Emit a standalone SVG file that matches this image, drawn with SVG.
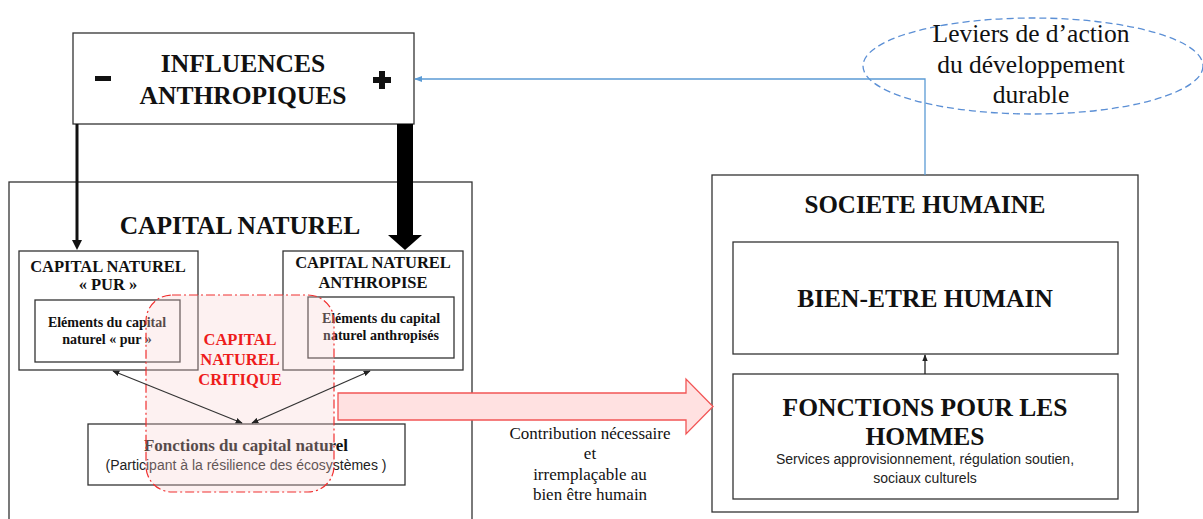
<svg xmlns="http://www.w3.org/2000/svg" width="1203" height="519" viewBox="0 0 1203 519">
<style>
.box{fill:#fff;stroke:#333;stroke-width:1.3}
.ser{font-family:"Liberation Serif",serif;fill:#111;text-anchor:middle}
.b{font-weight:bold}
.sans{font-family:"Liberation Sans",Arial,sans-serif;fill:#222;text-anchor:middle}
.red{fill:#ee1c1c}
</style>
<defs>
<marker id="ah" viewBox="0 0 10 10" refX="9" refY="5" markerWidth="7" markerHeight="7" orient="auto-start-reverse" markerUnits="userSpaceOnUse"><path d="M0,1 L10,5 L0,9 z" fill="#222"/></marker>
<marker id="ahb" viewBox="0 0 10 10" refX="9" refY="5" markerWidth="8" markerHeight="8" orient="auto" markerUnits="userSpaceOnUse"><path d="M0,1 L10,5 L0,9 z" fill="#5b9bd5"/></marker>
</defs>

<g id="capital-naturel">
<rect class="box" x="9" y="182" width="463" height="345"/>
<text class="ser b" x="240" y="234" font-size="25.5">CAPITAL NATUREL</text>
</g>

<g id="societe-humaine">
<rect class="box" x="712" y="175" width="426" height="337"/>
<text class="ser b" x="925" y="213" font-size="25">SOCIETE HUMAINE</text>
</g>

<g id="influences">
<rect class="box" x="73" y="33" width="341" height="91"/>
<text class="ser b" x="243" y="72" font-size="25.5">INFLUENCES</text>
<text class="ser b" x="243" y="104" font-size="25.5">ANTHROPIQUES</text>
<rect x="95" y="76" width="16" height="5" fill="#111"/>
<path d="M379,71 h6 v6 h6 v6 h-6 v6 h-6 v-6 h-6 v-6 h6 z" fill="#111"/>
</g>

<g id="leviers">
<ellipse cx="1033" cy="66" rx="170" ry="48" fill="none" stroke="#5b8fd5" stroke-width="1.3" stroke-dasharray="7,4"/>
<text class="ser" x="1031" y="42" font-size="25.5">Leviers de d’action</text>
<text class="ser" x="1031" y="73" font-size="25.5">du développement</text>
<text class="ser" x="1031" y="103" font-size="25.5">durable</text>
</g>

<g id="cn-pur">
<rect class="box" x="19" y="251" width="179" height="119"/>
<text class="ser b" x="108" y="272" font-size="16.5">CAPITAL NATUREL</text>
<text class="ser b" x="108" y="290" font-size="16.5">« PUR »</text>
<rect class="box" x="35" y="300" width="145" height="62"/>
<text class="ser b" x="107" y="327" font-size="14">Eléments du capital</text>
<text class="ser b" x="107" y="344" font-size="14">naturel « pur »</text>
</g>

<g id="cn-anthropise">
<rect class="box" x="283" y="251" width="180" height="119"/>
<text class="ser b" x="373" y="268" font-size="16.5">CAPITAL NATUREL</text>
<text class="ser b" x="373" y="288" font-size="16.5">ANTHROPISE</text>
<rect class="box" x="308" y="297" width="146" height="61"/>
<text class="ser b" x="381" y="323" font-size="14">Eléments du capital</text>
<text class="ser b" x="381" y="340" font-size="14">naturel anthropisés</text>
</g>

<g id="fonctions-cn">
<rect class="box" x="88" y="424" width="317" height="61"/>
<text class="ser b" x="246" y="451" font-size="17">Fonctions du capital naturel</text>
<text class="sans" x="246" y="470" font-size="14">(Participant  à la résilience des écosystèmes )</text>
</g>

<g id="cn-critique">
<rect x="146" y="295" width="188" height="197" rx="26" ry="26" fill="#f9d0d0" fill-opacity="0.3" stroke="#f03030" stroke-width="1.2" stroke-dasharray="9,3,2,3"/>
<text class="ser b red" x="240" y="345" font-size="16.5">CAPITAL</text>
<text class="ser b red" x="240" y="365" font-size="16.5">NATUREL</text>
<text class="ser b red" x="240" y="385" font-size="16.5">CRITIQUE</text>
</g>

<g id="bien-etre">
<rect class="box" x="733" y="242" width="385" height="112"/>
<text class="ser b" x="925" y="307" font-size="25.5">BIEN-ETRE HUMAIN</text>
</g>

<g id="fonctions-hommes">
<rect class="box" x="733" y="374" width="385" height="125"/>
<text class="ser b" x="925" y="416" font-size="25.5">FONCTIONS POUR LES</text>
<text class="ser b" x="925" y="445" font-size="25.5">HOMMES</text>
<text class="sans" x="925" y="464" font-size="14">Services approvisionnement, régulation soutien,</text>
<text class="sans" x="925" y="483" font-size="14">sociaux culturels</text>
</g>

<g id="contribution">
<path d="M338,393 H686 V379 L713,406.5 L686,434 V420 H338 Z" fill="#ffe1e1" stroke="#f25555" stroke-width="1.3"/>
<text class="ser" x="590" y="439" font-size="17">Contribution nécessaire</text>
<text class="ser" x="590" y="459" font-size="17">et</text>
<text class="ser" x="590" y="480" font-size="17">irremplaçable au</text>
<text class="ser" x="590" y="500" font-size="17">bien être humain</text>
</g>

<g id="connectors">
<line x1="77" y1="124" x2="77" y2="241" stroke="#111" stroke-width="3"/>
<path d="M72,240 L82,240 L77,250 Z" fill="#111"/>
<rect x="397" y="124" width="16" height="112" fill="#000"/>
<path d="M388,235 L422,235 L405,250 Z" fill="#000"/>
<line x1="242" y1="423" x2="113" y2="371" stroke="#333" stroke-width="1.2" marker-start="url(#ah)" marker-end="url(#ah)"/>
<line x1="252" y1="423" x2="370" y2="371" stroke="#333" stroke-width="1.2" marker-start="url(#ah)" marker-end="url(#ah)"/>
<line x1="925" y1="374" x2="925" y2="355" stroke="#222" stroke-width="1.3" marker-end="url(#ah)"/>
<polyline points="925,175 925,79 415,79" fill="none" stroke="#5b9bd5" stroke-width="1.3" marker-end="url(#ahb)"/>
</g>
</svg>
